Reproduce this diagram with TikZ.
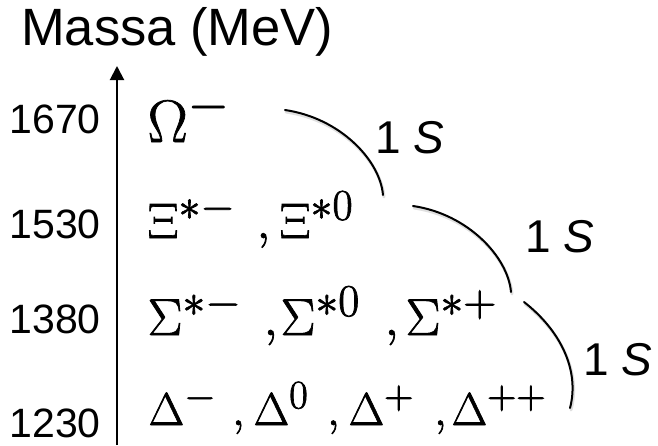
\RequirePackage{fix-cm}
\documentclass[tikz,border=0pt]{standalone}
\usepackage[no-math]{fontspec}
\newfontfamily\sansf{Liberation Sans}
\usetikzlibrary{arrows.meta}
\makeatletter\renewcommand\defaultscriptratio{.88}\makeatother
\newcommand\placeat[2]{\makebox[0pt][l]{\hspace*{#1pt}#2}}
\newcommand\heavier[1]{\special{pdf:literal direct 2 Tr 0.7 w}#1\special{pdf:literal direct 0 Tr}}
\tikzset{
  axisline/.style={line width=2pt,-{Triangle[width=14pt,length=14pt]}},
  arcline/.style={line width=2pt,line cap=round},
  arcshadow/.style={line width=3pt,draw=black!12,line cap=round},
  numlabel/.style={anchor=base east,inner sep=0pt,font=\sansf\fontsize{41}{41}\selectfont},
  titlelabel/.style={anchor=base west,inner sep=0pt,font=\sansf\fontsize{52.5}{52.5}\selectfont},
  spinlabel/.style={anchor=base west,inner sep=0pt,font=\sansf\fontsize{46}{46}\selectfont},
  rowlabel/.style={anchor=base west,inner sep=0pt},
}
\begin{document}
\begin{tikzpicture}[x=1pt,y=-1pt]
\useasboundingbox (0,0) rectangle (658,445);
% title
\node[titlelabel] (title) at (21,45) {Massa (MeV)};
% axis
\coordinate (axbot) at (117,445);
\coordinate (axtop) at (117,66);
\draw[axisline] (axbot) -- (axtop);
% mass values
\node[numlabel] (m1670) at (101,133) {1670};
\node[numlabel] (m1530) at (101,238) {1530};
\node[numlabel] (m1380) at (101,333) {1380};
\node[numlabel] (m1230) at (101,437) {1230};
% rows of particles
\node[rowlabel,font=\fontsize{60}{60}\selectfont] (omega) at (147,142)
  {\heavier{\placeat{0}{$\Omega^{-}$}}};
\node[rowlabel,font=\fontsize{50}{50}\selectfont] (xi) at (147,238)
  {\heavier{\placeat{0}{$\Xi^{*-}$}\placeat{109}{$,$}\placeat{132}{$\Xi^{*0}$}}};
\node[rowlabel,font=\fontsize{52}{52}\selectfont] (sigma) at (147,335)
  {\heavier{\placeat{0}{$\Sigma^{*-}$}\placeat{116}{$,$}\placeat{133}{$\Sigma^{*0}$}\placeat{237}{$,$}\placeat{258}{$\Sigma^{*+}$}}};
\node[rowlabel,font=\fontsize{46}{46}\selectfont] (delta) at (148,425)
  {\heavier{\placeat{0}{$\Delta^{-}$}\placeat{83.5}{$,$}\placeat{105}{$\Delta^{0}$}\placeat{178.5}{$,$}\placeat{200}{$\Delta^{+}$}\placeat{285.5}{$,$}\placeat{303}{$\Delta^{++}$}}};
% arcs
\coordinate (a1s) at (285,110); \coordinate (a1e) at (383,195);
\coordinate (a2s) at (413,206); \coordinate (a2e) at (511,292);
\coordinate (a3s) at (524,302); \coordinate (a3e) at (570,408);
\draw[arcshadow] ([shift={(1,2)}]a1s) .. controls +(55,8) and +(-3,-35) .. ([shift={(1,2)}]a1e);
\draw[arcshadow] ([shift={(1,2)}]a2s) .. controls +(55,8) and +(-3,-35) .. ([shift={(1,2)}]a2e);
\draw[arcshadow] ([shift={(1,2)}]a3s) .. controls +(36,28) and +(10,-38) .. ([shift={(1,2)}]a3e);
\draw[arcline] (a1s) .. controls +(55,8) and +(-3,-35) .. (a1e);
\draw[arcline] (a2s) .. controls +(55,8) and +(-3,-35) .. (a2e);
\draw[arcline] (a3s) .. controls +(36,28) and +(10,-38) .. (a3e);
% spin labels
\node[spinlabel] (s1) at (375,153) {1 \textit{S}};
\node[spinlabel] (s2) at (525,252) {1 \textit{S}};
\node[spinlabel] (s3) at (583,375) {1 \textit{S}};
\end{tikzpicture}
\end{document}
